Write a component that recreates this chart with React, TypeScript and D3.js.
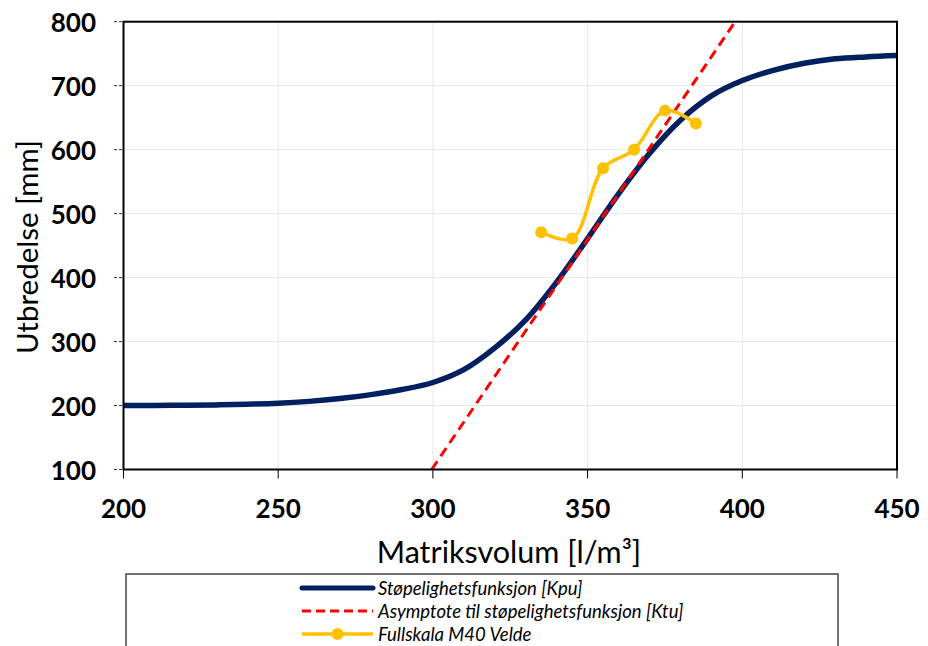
import React from "react";
import * as d3 from "d3";

// Støpelighetsfunksjon (Kpu): matrix volume [l/m³] vs. spread [mm]
const kpuVolume = [200, 210, 220, 230, 240, 250, 260, 270, 280, 290, 300, 310, 320, 330, 340, 350, 360, 370, 380, 390, 400, 410, 420, 430, 440, 450];
const kpuSpread = [200, 200, 200.5, 201, 202, 203.5, 206.5, 211, 217, 225, 236, 256, 290, 334, 393, 461, 531, 594, 646, 684, 708, 724, 735, 742, 745, 747];

// Asymptote (Ktu) endpoints
const ktuVolume = [299.6, 397.7];
const ktuSpread = [100, 800];

// Fullskala M40 Velde measurements
const veldeVolume = [335, 345, 355, 365, 375, 385];
const veldeSpread = [471, 461, 571, 600, 661, 641];

const xTicks = [200, 250, 300, 350, 400, 450];
const yTicks = [100, 200, 300, 400, 500, 600, 700, 800];

const legendLabels = [
  "Støpelighetsfunksjon [Kpu]",
  "Asymptote til støpelighetsfunksjon [Ktu]",
  "Fullskala M40 Velde",
];

const W = 928;
const H = 646;
const plot = { left: 123.5, right: 897, top: 21.7, bottom: 469.5 };

const BLUE = "#002060";
const RED = "#FF0000";
const YELLOW = "#FFC000";
const FONT = "Lato, 'Open Sans', sans-serif";

export default function App() {
  const x = d3.scaleLinear().domain([200, 450]).range([plot.left, plot.right]);
  const y = d3.scaleLinear().domain([100, 800]).range([plot.bottom, plot.top]);

  const kpu = kpuVolume.map((v, i) => [v, kpuSpread[i]] as [number, number]);
  const ktu = ktuVolume.map((v, i) => [v, ktuSpread[i]] as [number, number]);
  const velde = veldeVolume.map((v, i) => [v, veldeSpread[i]] as [number, number]);

  const smooth = d3
    .line<[number, number]>()
    .x((d) => x(d[0]))
    .y((d) => y(d[1]))
    .curve(d3.curveCatmullRom.alpha(0.5));
  const straight = d3
    .line<[number, number]>()
    .x((d) => x(d[0]))
    .y((d) => y(d[1]));

  const legend = { left: 126, top: 574, right: 838, sx0: 302, sx1: 373, tx: 378, rows: [588, 611, 634] };

  return (
    <svg
      width={W}
      height={H}
      style={{ position: "absolute", left: 0, top: 0, background: "#fff" }}
      fontFamily={FONT}
    >
      <defs>
        <clipPath id="plot-clip">
          <rect x={plot.left} y={plot.top} width={plot.right - plot.left} height={plot.bottom - plot.top} />
        </clipPath>
      </defs>

      {/* gridlines */}
      <g stroke="#e8e8e8" strokeWidth={1}>
        {yTicks.map((t) => (
          <line key={"gy" + t} x1={plot.left} x2={plot.right} y1={y(t)} y2={y(t)} />
        ))}
        {xTicks.map((t) => (
          <line key={"gx" + t} x1={x(t)} x2={x(t)} y1={plot.top} y2={plot.bottom} />
        ))}
      </g>

      {/* series */}
      <g clipPath="url(#plot-clip)" fill="none">
        <path d={smooth(kpu) || ""} stroke={BLUE} strokeWidth={5.5} strokeLinecap="round" strokeLinejoin="round" />
        <path d={straight(ktu) || ""} stroke={RED} strokeWidth={3} strokeDasharray="10,6" />
      </g>
      <g>
        <path d={smooth(velde) || ""} fill="none" stroke={YELLOW} strokeWidth={3.5} strokeLinejoin="round" />
        {velde.map((d, i) => (
          <circle key={"vp" + i} cx={x(d[0])} cy={y(d[1])} r={6} fill={YELLOW} />
        ))}
      </g>

      {/* plot frame */}
      <rect
        x={plot.left}
        y={plot.top}
        width={plot.right - plot.left}
        height={plot.bottom - plot.top}
        fill="none"
        stroke="#000"
        strokeWidth={2}
      />

      {/* y axis ticks and labels */}
      <g>
        {yTicks.map((t) => (
          <g key={"yt" + t}>
            <line x1={114} x2={plot.left} y1={y(t)} y2={y(t)} stroke="#333" strokeWidth={1} strokeDasharray="3,2" />
            <text
              x={96}
              y={y(t)}
              textAnchor="end"
              dominantBaseline="central"
              fontSize={26}
              fontWeight={700}
              fill="#000"
            >
              {t}
            </text>
          </g>
        ))}
      </g>

      {/* x axis ticks and labels */}
      <g>
        {xTicks.map((t) => (
          <g key={"xt" + t}>
            <line x1={x(t)} x2={x(t)} y1={plot.bottom} y2={plot.bottom + 9} stroke="#000" strokeWidth={1} />
            <text
              x={x(t)}
              y={507.5}
              textAnchor="middle"
              dominantBaseline="central"
              fontSize={26}
              fontWeight={700}
              fill="#000"
            >
              {t}
            </text>
          </g>
        ))}
      </g>

      {/* axis titles */}
      <text x={509} y={563} textAnchor="middle" fontSize={30.5} fill="#000">
        Matriksvolum [l/m³]
      </text>
      <text
        transform={`translate(38, 247) rotate(-90)`}
        textAnchor="middle"
        fontSize={29.5}
        fill="#000"
      >
        Utbredelse [mm]
      </text>

      {/* legend */}
      <g>
        <rect
          x={legend.left}
          y={legend.top}
          width={legend.right - legend.left}
          height={H - legend.top + 10}
          fill="#fff"
          stroke="#444"
          strokeWidth={1.5}
        />
        <line x1={legend.sx0} x2={legend.sx1} y1={legend.rows[0]} y2={legend.rows[0]} stroke={BLUE} strokeWidth={5} strokeLinecap="round" />
        <line x1={legend.sx0} x2={legend.sx1} y1={legend.rows[1]} y2={legend.rows[1]} stroke={RED} strokeWidth={3} strokeDasharray="9,5" />
        <line x1={legend.sx0} x2={legend.sx1} y1={legend.rows[2]} y2={legend.rows[2]} stroke={YELLOW} strokeWidth={3.5} />
        <circle cx={(legend.sx0 + legend.sx1) / 2} cy={legend.rows[2]} r={6} fill={YELLOW} />
        {legendLabels.map((l, i) => (
          <text
            key={l}
            x={legend.tx}
            y={legend.rows[i]}
            dominantBaseline="central"
            fontSize={18.5}
            fontStyle="italic"
            fill="#000"
          >
            {l}
          </text>
        ))}
      </g>
    </svg>
  );
}
